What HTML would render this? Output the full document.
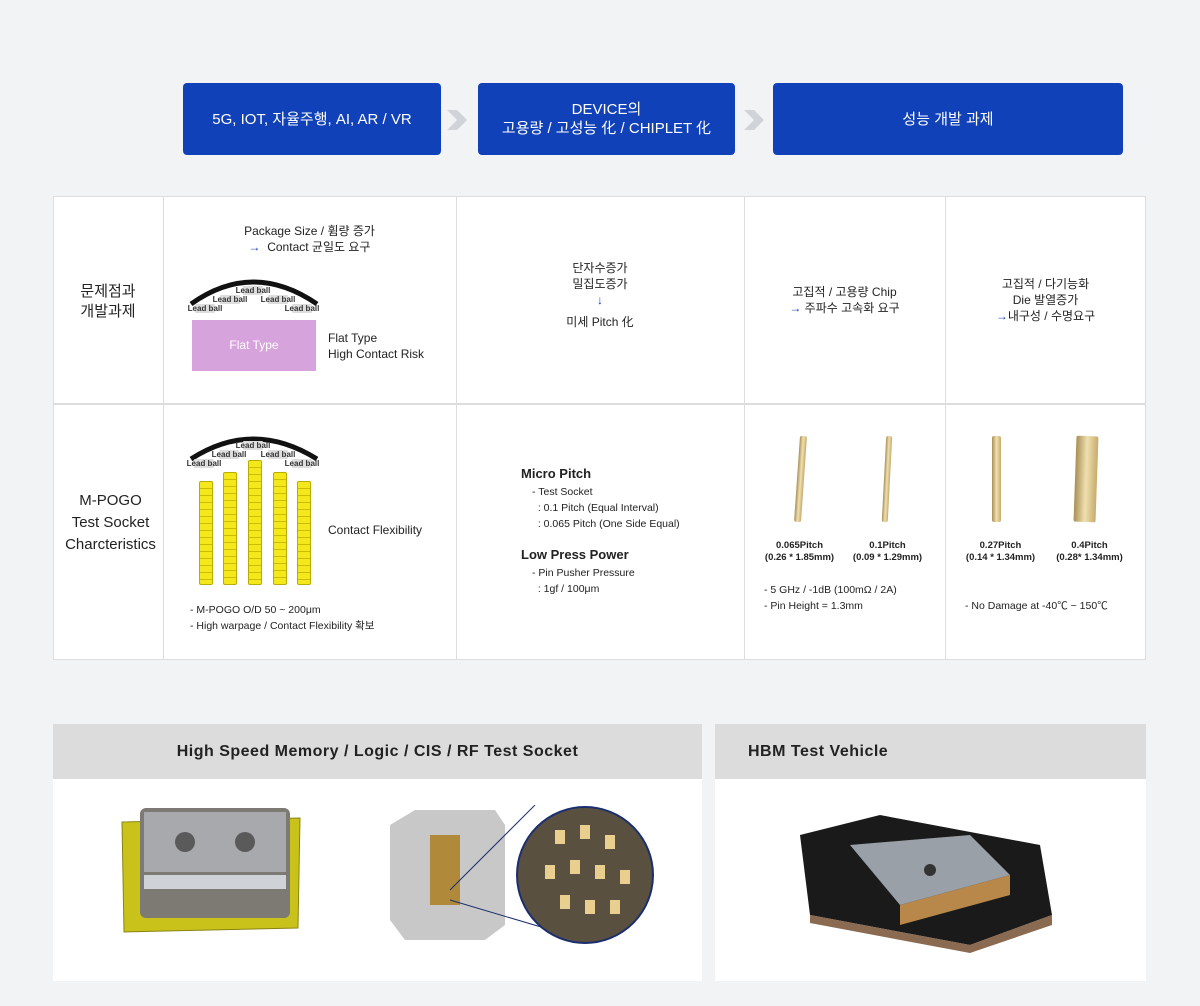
<!DOCTYPE html>
<html><head><meta charset="utf-8"><style>
*{margin:0;padding:0;box-sizing:border-box}
body{width:1200px;height:1006px;background:#f2f3f5;position:relative;overflow:hidden;font-family:"Liberation Sans","Noto Sans CJK KR",sans-serif;color:#222}
.a{position:absolute}
.blue{position:absolute;top:83px;height:72px;background:#1141b9;border-radius:4px;color:#fff;font-size:15px;display:flex;align-items:center;justify-content:center;text-align:center;line-height:19px}
.c{position:absolute;text-align:center;font-size:12px;line-height:16px}
.t{font-size:11px;line-height:16px}
.lb{position:absolute;font-size:8px;font-weight:bold;color:#333;background:radial-gradient(circle,#ddd 55%,transparent 58%);width:36px;text-align:center}
.pin{position:absolute;width:14px;background:#f4e81a;border:1px solid #b8ad00;border-radius:2px;background-image:repeating-linear-gradient(#f4e81a 0 6px,#c9bd00 6px 7px)}
.gold{position:absolute;background:linear-gradient(90deg,#a88f55,#f0e0b0,#c6ab6c);border-radius:2px}
</style></head><body>
<div class="blue" style="left:183px;width:258px">5G, IOT, 자율주행, AI, AR / VR</div>
<div class="blue" style="left:478px;width:257px">DEVICE의<br>고용량 / 고성능 化 / CHIPLET 化</div>
<div class="blue" style="left:773px;width:350px">성능 개발 과제</div>
<svg class="a" style="left:445px;top:108px" width="24" height="24"><path d="M2 2h10l10 10-10 10H2l10-10z" fill="#d0d3d8"/></svg>
<svg class="a" style="left:742px;top:108px" width="24" height="24"><path d="M2 2h10l10 10-10 10H2l10-10z" fill="#d0d3d8"/></svg>

<div class="a" style="left:53px;top:196px;width:1093px;height:464px;background:#fff;border:1px solid #ddd"></div>
<div class="a" style="left:53px;top:403px;width:1093px;height:2px;background:#ddd"></div>
<div class="a" style="left:163px;top:196px;width:1px;height:464px;background:#ddd"></div>
<div class="a" style="left:456px;top:196px;width:1px;height:464px;background:#ddd"></div>
<div class="a" style="left:744px;top:196px;width:1px;height:464px;background:#ddd"></div>
<div class="a" style="left:945px;top:196px;width:1px;height:464px;background:#ddd"></div>

<div class="c" style="left:53px;top:282px;width:110px;font-size:15px;line-height:20px">문제점과<br>개발과제</div>
<div class="c" style="left:53px;top:490px;width:115px;font-size:15px;line-height:22px">M-POGO<br>Test Socket<br>Charcteristics</div>

<div class="c" style="left:163px;top:223px;width:293px">Package Size / 휨량 증가<br><span style="color:#1141b9">→</span>&nbsp; Contact 균일도 요구</div>
<svg class="a" style="left:185px;top:270px" width="140" height="40"><path d="M6 34 Q68 -10 132 34" stroke="#111" stroke-width="5" fill="none"/></svg>
<div class="lb" style="left:187px;top:304px">Lead ball</div><div class="lb" style="left:212px;top:295px">Lead ball</div><div class="lb" style="left:235px;top:286px">Lead ball</div><div class="lb" style="left:260px;top:295px">Lead ball</div><div class="lb" style="left:284px;top:304px">Lead ball</div>
<div class="a" style="left:192px;top:320px;width:124px;height:51px;background:#d7a3dc;color:#fff;font-size:12px;text-align:center;line-height:51px">Flat Type</div>
<div class="a t" style="left:328px;top:330px;font-size:12px">Flat Type<br>High Contact Risk</div>

<div class="c" style="left:456px;top:260px;width:288px">단자수증가<br>밀집도증가<br><span style="color:#1141b9">↓</span><br><span style="line-height:28px">미세 Pitch 化</span></div>
<div class="c" style="left:744px;top:284px;width:201px">고집적 / 고용량 Chip<br><span style="color:#1141b9">→</span> 주파수 고속화 요구</div>
<div class="c" style="left:945px;top:276px;width:201px">고집적 / 다기능화<br>Die 발열증가<br><span style="color:#1141b9">→</span>내구성 / 수명요구</div>

<svg class="a" style="left:185px;top:425px" width="140" height="40"><path d="M6 34 Q68 -6 132 34" stroke="#111" stroke-width="5" fill="none"/></svg>
<div class="lb" style="left:186px;top:459px">Lead ball</div><div class="lb" style="left:211px;top:450px">Lead ball</div><div class="lb" style="left:235px;top:441px">Lead ball</div><div class="lb" style="left:260px;top:450px">Lead ball</div><div class="lb" style="left:284px;top:459px">Lead ball</div>
<div class="pin" style="left:199px;top:481px;height:104px"></div>
<div class="pin" style="left:223px;top:472px;height:113px"></div>
<div class="pin" style="left:248px;top:460px;height:125px"></div>
<div class="pin" style="left:273px;top:472px;height:113px"></div>
<div class="pin" style="left:297px;top:481px;height:104px"></div>
<div class="a" style="left:328px;top:523px;font-size:12px">Contact Flexibility</div>
<div class="a t" style="left:190px;top:602px;font-size:10.5px">- M-POGO O/D 50 ~ 200μm<br>- High warpage / Contact Flexibility 확보</div>

<div class="a" style="left:521px;top:466px;font-size:13px;font-weight:bold">Micro Pitch</div>
<div class="a t" style="left:532px;top:484px;font-size:10.5px">- Test Socket<br>&nbsp; : 0.1 Pitch (Equal Interval)<br>&nbsp; : 0.065 Pitch (One Side Equal)</div>
<div class="a" style="left:521px;top:547px;font-size:13px;font-weight:bold">Low Press Power</div>
<div class="a t" style="left:532px;top:565px;font-size:10.5px">- Pin Pusher Pressure<br>&nbsp; : 1gf / 100μm</div>

<div class="gold" style="left:797px;top:436px;width:7px;height:86px;transform:rotate(4deg)"></div>
<div class="gold" style="left:884px;top:436px;width:6px;height:86px;transform:rotate(3deg)"></div>
<div class="gold" style="left:992px;top:436px;width:9px;height:86px"></div>
<div class="gold" style="left:1075px;top:436px;width:22px;height:86px;transform:rotate(2deg)"></div>
<div class="c" style="left:752px;top:540px;width:95px;font-size:9.5px;font-weight:bold;line-height:12px">0.065Pitch<br>(0.26 * 1.85mm)</div>
<div class="c" style="left:840px;top:540px;width:95px;font-size:9.5px;font-weight:bold;line-height:12px">0.1Pitch<br>(0.09 * 1.29mm)</div>
<div class="c" style="left:953px;top:540px;width:95px;font-size:9.5px;font-weight:bold;line-height:12px">0.27Pitch<br>(0.14 * 1.34mm)</div>
<div class="c" style="left:1042px;top:540px;width:95px;font-size:9.5px;font-weight:bold;line-height:12px">0.4Pitch<br>(0.28* 1.34mm)</div>
<div class="a t" style="left:764px;top:582px;font-size:10.5px">- 5 GHz / -1dB (100mΩ / 2A)<br>- Pin Height = 1.3mm</div>
<div class="a t" style="left:965px;top:598px;font-size:10.5px">- No Damage at -40℃ ~ 150℃</div>

<div class="a" style="left:53px;top:724px;width:649px;height:257px;background:#fff"></div>
<div class="a" style="left:53px;top:724px;width:649px;height:55px;background:#dcdcdc;font-size:16px;font-weight:bold;text-align:center;line-height:55px;letter-spacing:0.5px">High Speed Memory / Logic / CIS / RF Test Socket</div>
<div class="a" style="left:715px;top:724px;width:431px;height:257px;background:#fff"></div>
<div class="a" style="left:715px;top:724px;width:431px;height:55px;background:#dcdcdc;font-size:16px;font-weight:bold;line-height:55px;padding-left:33px;letter-spacing:0.5px">HBM Test Vehicle</div>

<svg class="a" style="left:110px;top:800px" width="200" height="150"><path d="M12 22 L190 18 L188 128 L14 132 Z" fill="#c9c21a" stroke="#8a8410"/><rect x="30" y="8" width="150" height="110" rx="6" fill="#7c7a72"/><rect x="34" y="12" width="142" height="60" fill="#a8a9ac"/><circle cx="75" cy="42" r="10" fill="#5a5a5a"/><circle cx="135" cy="42" r="10" fill="#5a5a5a"/><rect x="34" y="75" width="142" height="14" fill="#cfd3d8"/></svg>
<svg class="a" style="left:385px;top:805px" width="290" height="140"><path d="M30 5 L110 5 L120 20 L120 120 L100 135 L20 135 L5 115 L5 20 Z" fill="#c8c8c8"/><rect x="45" y="30" width="30" height="70" fill="#b08a3a"/><line x1="65" y1="85" x2="150" y2="0" stroke="#1b2f6e"/><line x1="65" y1="95" x2="200" y2="135" stroke="#1b2f6e"/><circle cx="200" cy="70" r="68" fill="#5a5040" stroke="#1b2f6e" stroke-width="2"/><g fill="#e8cf90"><rect x="170" y="25" width="10" height="14"/><rect x="195" y="20" width="10" height="14"/><rect x="220" y="30" width="10" height="14"/><rect x="160" y="60" width="10" height="14"/><rect x="185" y="55" width="10" height="14"/><rect x="210" y="60" width="10" height="14"/><rect x="235" y="65" width="10" height="14"/><rect x="175" y="90" width="10" height="14"/><rect x="200" y="95" width="10" height="14"/><rect x="225" y="95" width="10" height="14"/></g></svg>
<svg class="a" style="left:790px;top:795px" width="270" height="160"><path d="M10 40 L90 20 L250 50 L262 120 L180 150 L20 120 Z" fill="#1a1a1a"/><path d="M60 50 L180 40 L220 80 L110 110 Z" fill="#9aa0a8"/><path d="M110 110 L220 80 L220 100 L110 130 Z" fill="#b8884a"/><path d="M20 120 L180 150 L262 120 L262 130 L180 158 L20 128 Z" fill="#8a6a50"/><circle cx="140" cy="75" r="6" fill="#333"/></svg>
</body></html>
